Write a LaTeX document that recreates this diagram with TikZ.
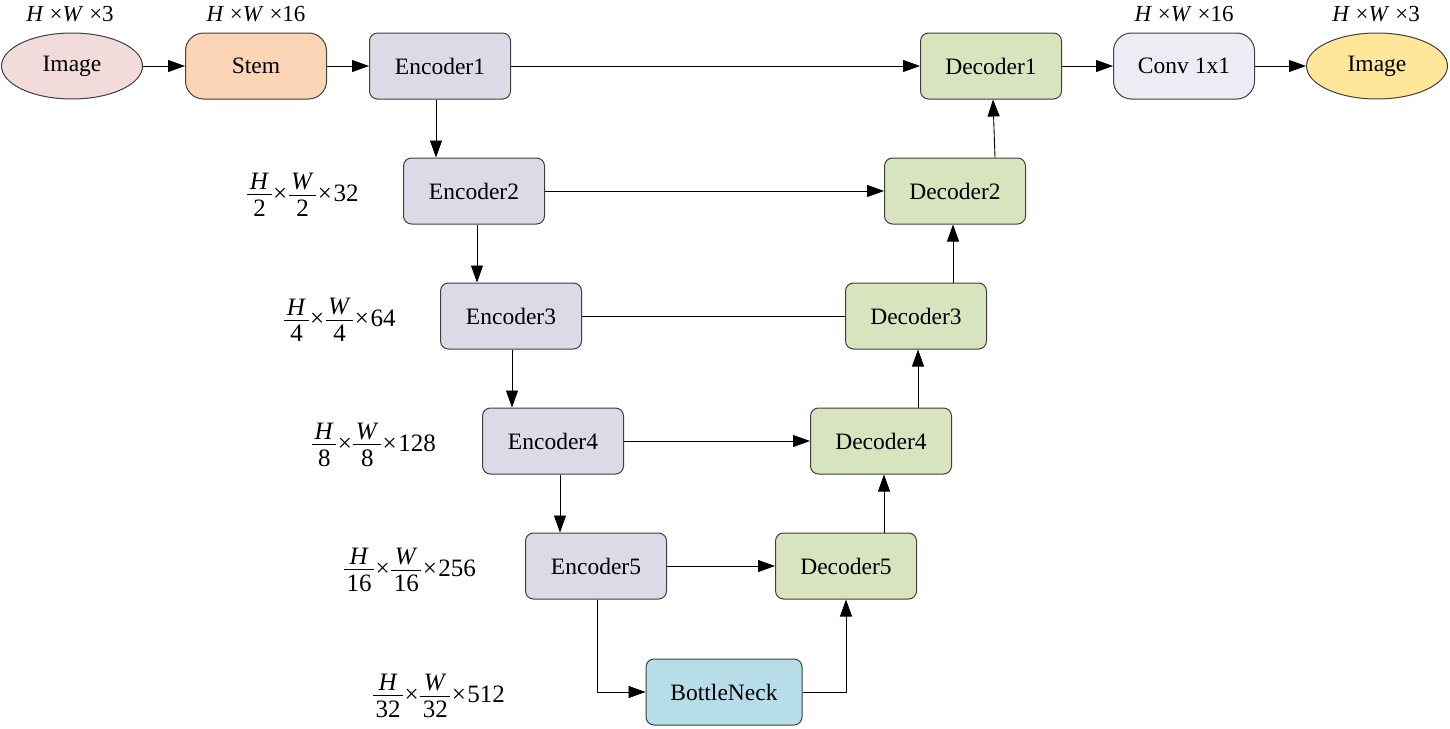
\documentclass[tikz,border=0pt]{standalone}
\usepackage{fontspec}
\setmainfont{Liberation Serif}
\usetikzlibrary{arrows.meta,shapes.geometric}
\definecolor{bordc}{HTML}{3F3F3F}
\definecolor{imgA}{HTML}{F2DCDB}
\definecolor{stemc}{HTML}{FBD5B5}
\definecolor{encc}{HTML}{DDD9E6}
\definecolor{decc}{HTML}{D7E4BD}
\definecolor{convc}{HTML}{EDEBF3}
\definecolor{botc}{HTML}{B7DDE8}
\definecolor{imgB}{HTML}{FFE699}
\newcommand{\fr}[2]{$\vcenter{\offinterlineskip\halign{\hfil\kern2.5pt##\kern2.5pt\hfil\cr\textit{#1}\cr\noalign{\kern4.5pt\hrule height 0.9pt\kern4.5pt}#2\cr}}$}
\newcommand{\tm}{\hspace{0.25em}×}
\newcommand{\fx}{\hspace{1.5pt}×\hspace{1.5pt}}
\begin{document}
\begin{tikzpicture}[x=1pt,y=-1pt,
  every node/.style={font=\fontsize{23.5}{27}\selectfont, inner sep=0pt},
  box/.style={draw=bordc, line width=1pt, rounded corners=8pt, minimum width=141pt, minimum height=66pt},
  pill/.style={box, rounded corners=18pt},
  oval/.style={draw=bordc, line width=1pt, ellipse, minimum width=141pt, minimum height=66pt},
  enc/.style={box, fill=encc},
  dec/.style={box, fill=decc},
  lab/.style={font=\fontsize{23}{26}\selectfont},
  flab/.style={font=\fontsize{25}{28}\selectfont},
  arr/.style={line width=0.9pt, -{Triangle[length=17pt,width=12pt]}},
  ln/.style={line width=0.9pt}]
\useasboundingbox (0,0) rectangle (1450,728);
% nodes
\node[oval, fill=imgA] (img1) at (72,66) {Image};
\node[pill, fill=stemc] (stem) at (256,66) {Stem};
\node[enc] (enc1) at (440,66) {Encoder1};
\node[dec] (dec1) at (991,66) {Decoder1};
\node[pill, fill=convc] (conv) at (1184,66) {Conv 1x1};
\node[oval, fill=imgB] (img2) at (1377,66) {Image};
\node[enc] (enc2) at (474,191) {Encoder2};
\node[dec] (dec2) at (955,191) {Decoder2};
\node[enc] (enc3) at (511,316) {Encoder3};
\node[dec] (dec3) at (916,316) {Decoder3};
\node[enc] (enc4) at (553,441) {Encoder4};
\node[dec] (dec4) at (881,441) {Decoder4};
\node[enc] (enc5) at (596,566) {Encoder5};
\node[dec] (dec5) at (846,566) {Decoder5};
\node[box, fill=botc, minimum width=156pt] (bot) at (724,692) {BottleNeck};
% labels
\node[lab] (l1) at (70,14) {\textit{H}\tm\textit{W}\tm3};
\node[lab] (l2) at (256,14) {\textit{H}\tm\textit{W}\tm16};
\node[lab] (l3) at (1184,14) {\textit{H}\tm\textit{W}\tm16};
\node[lab] (l4) at (1376,14) {\textit{H}\tm\textit{W}\tm3};
\node[flab] (f2) at (303,195) {\fr{H}{2}\fx\fr{W}{2}\fx32};
\node[flab] (f4) at (340,320) {\fr{H}{4}\fx\fr{W}{4}\fx64};
\node[flab] (f8) at (374,445) {\fr{H}{8}\fx\fr{W}{8}\fx128};
\node[flab] (f16) at (410,570) {\fr{H}{16}\fx\fr{W}{16}\fx256};
\node[flab] (f32) at (439,696) {\fr{H}{32}\fx\fr{W}{32}\fx512};
% connectors
\draw[arr] (img1) -- (stem);
\draw[arr] (stem) -- (enc1);
\draw[arr] (enc1) -- (dec1);
\draw[arr] (dec1) -- (conv);
\draw[arr] (conv) -- (img2);
\draw[arr] ([xshift=-4pt]enc1.south) -- ([xshift=-4pt]enc1.south |- enc2.north);
\draw[arr] ([xshift=3pt]enc2.south) -- ([xshift=3pt]enc2.south |- enc3.north);
\draw[arr] ([xshift=1pt]enc3.south) -- ([xshift=1pt]enc3.south |- enc4.north);
\draw[arr] ([xshift=7pt]enc4.south) -- ([xshift=7pt]enc4.south |- enc5.north);
\draw[arr] ([xshift=1pt]enc5.south) |- (bot.west);
\draw[arr] (bot.east) -| (dec5.south);
\draw[arr] ([xshift=38pt]dec5.north) -- ([xshift=38pt]dec5.north |- dec4.south);
\draw[arr] ([xshift=37pt]dec4.north) -- ([xshift=37pt]dec4.north |- dec3.south);
\draw[arr] ([xshift=37pt]dec3.north) -- ([xshift=37pt]dec3.north |- dec2.south);
\draw[arr] ([xshift=40pt]dec2.north) -- ([xshift=2pt]dec1.south);
\draw[arr] (enc2.east) -- (dec2.west);
\draw[ln] (enc3.east) -- (dec3.west);
\draw[arr] (enc4.east) -- (dec4.west);
\draw[arr] (enc5.east) -- (dec5.west);
\end{tikzpicture}
\end{document}
